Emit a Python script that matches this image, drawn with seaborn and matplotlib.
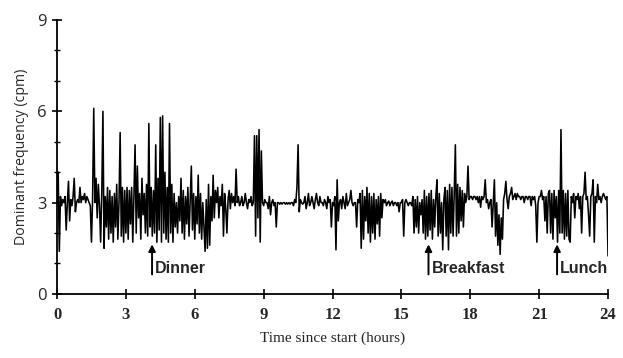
import numpy as np
import pandas as pd
import seaborn as sns
import matplotlib.pyplot as plt
from matplotlib.ticker import MultipleLocator

# dominant frequency (cpm), one reading every 0.05 h
freq = [
    # 0 h
    3.0, 4.0, 1.4, 3.2, 2.9, 3.1, 3.0, 3.2, 2.1, 3.0, 3.7, 2.4, 3.1, 2.9, 3.2, 3.8, 2.7, 3.0, 3.1, 3.0,
    # 1 h
    3.5, 3.0, 3.2, 3.1, 3.3, 3.0, 3.2, 3.1, 3.0, 2.9, 1.7, 3.1, 6.1, 3.0, 3.8, 2.5, 3.6, 2.9, 1.7, 3.3,
    # 2 h
    6.0, 1.5, 3.2, 2.2, 3.5, 1.8, 3.4, 2.0, 3.2, 1.7, 3.3, 2.2, 3.6, 1.8, 3.0, 5.3, 1.9, 3.5, 1.7, 3.4,
    # 3 h
    2.0, 3.5, 1.8, 3.4, 2.3, 3.5, 1.7, 3.2, 4.9, 2.0, 4.2, 2.5, 3.3, 1.8, 3.8, 2.6, 3.3, 2.0, 3.6, 1.9,
    # 4 h
    5.6, 2.2, 3.5, 1.9, 3.4, 2.0, 4.9, 1.7, 3.8, 2.1, 5.8, 1.7, 5.85, 2.0, 4.0, 1.8, 3.5, 1.7, 5.6, 2.0,
    # 5 h
    3.6, 1.7, 3.3, 2.2, 3.0, 2.0, 3.2, 2.4, 3.8, 2.0, 3.4, 1.8, 3.2, 2.3, 3.5, 1.9, 3.1, 4.2, 2.1, 3.3,
    # 6 h
    1.8, 3.2, 2.3, 3.9, 2.0, 3.3, 1.8, 3.0, 2.2, 1.4, 3.1, 1.5, 3.6, 1.6, 3.2, 2.4, 3.9, 2.5, 3.4, 3.0,
    # 7 h
    3.5, 2.5, 3.2, 2.9, 3.6, 1.9, 3.3, 2.8, 2.0, 3.1, 3.4, 2.8, 3.3, 3.0, 3.2, 2.9, 4.1, 3.0, 3.2, 2.9,
    # 8 h
    3.0, 3.2, 2.9, 3.0, 3.3, 3.0, 2.8, 3.1, 3.0, 3.2, 2.9, 3.0, 5.2, 1.9, 5.2, 2.5, 5.4, 1.7, 4.7, 3.0,
    # 9 h
    2.9, 3.1, 3.0, 3.0, 2.8, 3.2, 2.6, 3.0, 3.1, 2.9, 3.0, 2.2, 3.0, 3.0, 2.95, 3.0, 2.95, 3.0, 3.0, 2.95,
    # 10 h
    3.0, 2.95, 3.0, 2.95, 3.0, 3.0, 2.9, 3.1, 3.0, 3.5, 4.9, 2.7, 3.1, 3.0, 2.95, 3.0, 3.2, 2.8, 3.0, 3.3,
    # 11 h
    2.9, 3.0, 3.2, 3.0, 2.8, 3.1, 3.3, 3.0, 2.9, 3.2, 3.0, 3.0, 2.9, 3.1, 3.0, 2.8, 3.2, 3.0, 3.1, 2.2,
    # 12 h
    3.0, 2.9, 3.2, 1.45, 3.75, 2.4, 3.0, 3.1, 2.8, 3.2, 3.0, 2.8, 3.3, 2.9, 3.0, 3.1, 3.4, 3.0, 2.9, 3.0,
    # 13 h
    3.0, 2.2, 3.1, 3.0, 3.3, 1.5, 3.4, 1.8, 3.2, 2.4, 3.5, 2.0, 3.3, 1.7, 3.2, 2.0, 3.3, 1.8, 3.1, 2.3,
    # 14 h
    3.2, 1.9, 3.3, 2.5, 3.1, 3.0, 3.1, 2.9, 3.0, 3.05, 2.9, 3.0, 3.05, 2.9, 3.0, 3.0, 2.9, 3.0, 2.7, 3.0,
    # 15 h
    3.0, 3.1, 1.9, 3.0, 3.1, 3.0, 2.9, 3.0, 3.0, 2.9, 3.2, 2.0, 3.1, 2.2, 3.2, 2.0, 3.0, 2.6, 3.1, 2.0,
    # 16 h
    3.4, 1.8, 3.2, 1.9, 3.3, 2.1, 3.4, 1.8, 3.1, 2.2, 3.2, 3.75, 1.9, 3.3, 2.0, 3.0, 1.45, 3.1, 3.5, 1.9,
    # 17 h
    3.4, 1.45, 3.6, 2.0, 3.5, 1.9, 3.3, 4.9, 1.9, 3.6, 2.0, 3.5, 2.4, 3.4, 2.2, 3.3, 3.0, 3.2, 4.2, 3.1,
    # 18 h
    3.2, 3.2, 3.1, 3.2, 3.2, 3.1, 3.2, 3.0, 3.2, 2.85, 3.2, 3.1, 3.2, 3.75, 3.0, 3.1, 2.8, 3.0, 3.1, 2.2,
    # 19 h
    3.0, 3.75, 1.9, 3.0, 1.6, 2.6, 1.3, 2.5, 1.8, 3.1, 3.3, 3.7, 3.1, 2.8, 3.2, 3.3, 3.5, 3.1, 3.2, 3.3,
    # 20 h
    3.1, 3.3, 3.2, 3.2, 3.1, 3.2, 3.2, 3.0, 3.2, 3.2, 3.1, 3.2, 3.2, 2.9, 3.2, 3.1, 3.2, 2.9, 1.7, 3.0,
    # 21 h
    3.2, 3.2, 3.4, 3.1, 3.2, 2.4, 3.2, 2.0, 3.3, 3.4, 2.0, 3.3, 1.8, 3.4, 2.5, 3.2, 1.7, 3.4, 2.0, 5.4,
    # 22 h
    2.0, 3.4, 1.8, 3.3, 1.9, 3.4, 1.8, 1.7, 3.2, 3.0, 3.3, 2.5, 3.2, 3.1, 3.3, 2.8, 3.2, 2.0, 3.2, 3.3,
    # 23 h
    4.0, 3.1, 3.2, 2.6, 1.9, 3.2, 3.3, 3.75, 1.7, 3.2, 3.0, 3.6, 3.1, 3.2, 3.0, 3.2, 3.3, 3.2, 3.1, 3.2,
    # 24 h
    1.25,
]
step_hours = 0.05

meals = ["Dinner", "Breakfast", "Lunch"]
meal_times = [4.14, 16.18, 21.78]

df = pd.DataFrame({"hours": np.arange(len(freq)) * step_hours, "cpm": freq})

sns.set_style("ticks")
plt.rcParams["font.family"] = ["DejaVu Sans"]

fig = plt.figure(figsize=(6.23, 3.58), dpi=100)
ax = fig.add_axes([0.0915, 0.179, 0.8845, 0.765])

sns.lineplot(data=df, x="hours", y="cpm", color="black", linewidth=1.15, ax=ax)

for name, t in zip(meals, meal_times):
    ax.annotate("", xy=(t, 1.72), xytext=(t, 0.55),
                arrowprops=dict(arrowstyle="-|>", color="black", lw=1.4, mutation_scale=10))
    ax.text(t + 0.13, 0.85, name, fontsize=11.5, fontweight="bold", va="center", ha="left",
            family="Liberation Sans")

ax.set_xlim(0, 24)
ax.set_ylim(0, 9)
ax.set_xticks(range(0, 25, 3))
ax.set_yticks([0, 3, 6, 9])
ax.yaxis.set_minor_locator(MultipleLocator(1))
sns.despine(ax=ax)
for s in ["left", "bottom"]:
    ax.spines[s].set_linewidth(1.3)
    ax.spines[s].set_color("black")
ax.tick_params(axis="both", which="major", direction="inout", length=7, width=1.2, color="black")
ax.tick_params(axis="y", which="minor", direction="inout", length=4, width=1.0, color="black")
ax.tick_params(axis="x", labelsize=12, pad=6)
ax.tick_params(axis="y", labelsize=12, pad=4)
for lab in ax.get_xticklabels():
    lab.set_family("Liberation Serif")
    lab.set_fontweight("bold")
for lab in ax.get_yticklabels():
    lab.set_family("Open Sans")

ax.set_xlabel("Time since start (hours)", family="Liberation Serif", fontsize=11, labelpad=6)
ax.set_ylabel("Dominant frequency (cpm)", family="Open Sans", fontsize=10.2, labelpad=6)

fig.savefig("out.png", dpi=100)
